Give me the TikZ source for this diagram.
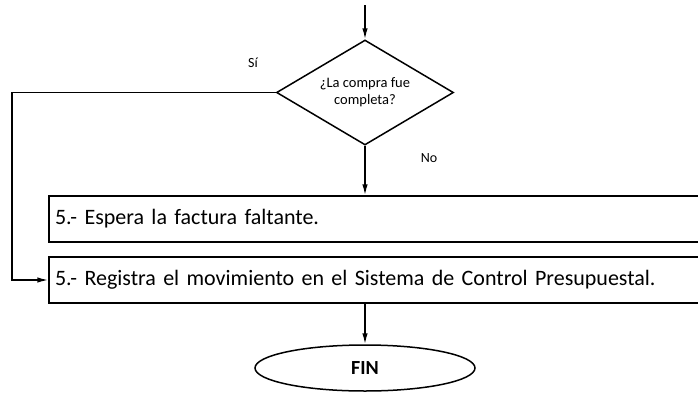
\documentclass[tikz,border=0pt]{standalone}
\usepackage{fontspec}
\setmainfont{Carlito}
\usetikzlibrary{shapes.geometric,arrows.meta}
\begin{document}
\begin{tikzpicture}[x=1pt,y=-1pt, line width=1.5pt,
  >={Latex[length=11pt,width=5.5pt]},
  decision/.style={diamond, draw, aspect=1.68, minimum width=177pt, minimum height=105pt, inner sep=0pt, font=\fontsize{14.5}{17.5}\selectfont},
  stepbox/.style={rectangle, draw, minimum height=46pt, text width=659pt, inner sep=6pt, align=left, font=\fontsize{22}{24}\selectfont},
  endbox/.style={ellipse, draw, minimum width=220pt, minimum height=46pt, font=\bfseries\fontsize{20}{22}\selectfont},
  lbl/.style={font=\fontsize{14}{16}\selectfont}]
\useasboundingbox (0,0) rectangle (698,407);
\clip (0,0) rectangle (698,407);
\coordinate (start) at (365,5);
\node[decision] (d) at (365,92.5) {\raisebox{3pt}{\begin{tabular}{@{}c@{}}¿La compra fue\\completa?\end{tabular}}};
\node[stepbox] (b1) at (384.5,219) {5.- Espera la factura faltante.};
\node[stepbox] (b2) at (384.5,280) {5.- Registra el movimiento en el Sistema de Control Presupuestal.};
\node[endbox] (fin) at (365,368) {FIN};
\coordinate (L) at (12,92.5);
\node[lbl] (si) at (253,63) {Sí};
\node[lbl] (no) at (429,158) {No};
\draw[->] (start) -- (d.north);
\draw[->] (d.south) -- (d.south |- b1.north);
\draw[->] (d.west) -- (L) |- (b2.west);
\draw[->] (fin.north |- b2.south) -- (fin.north);
\end{tikzpicture}
\end{document}
